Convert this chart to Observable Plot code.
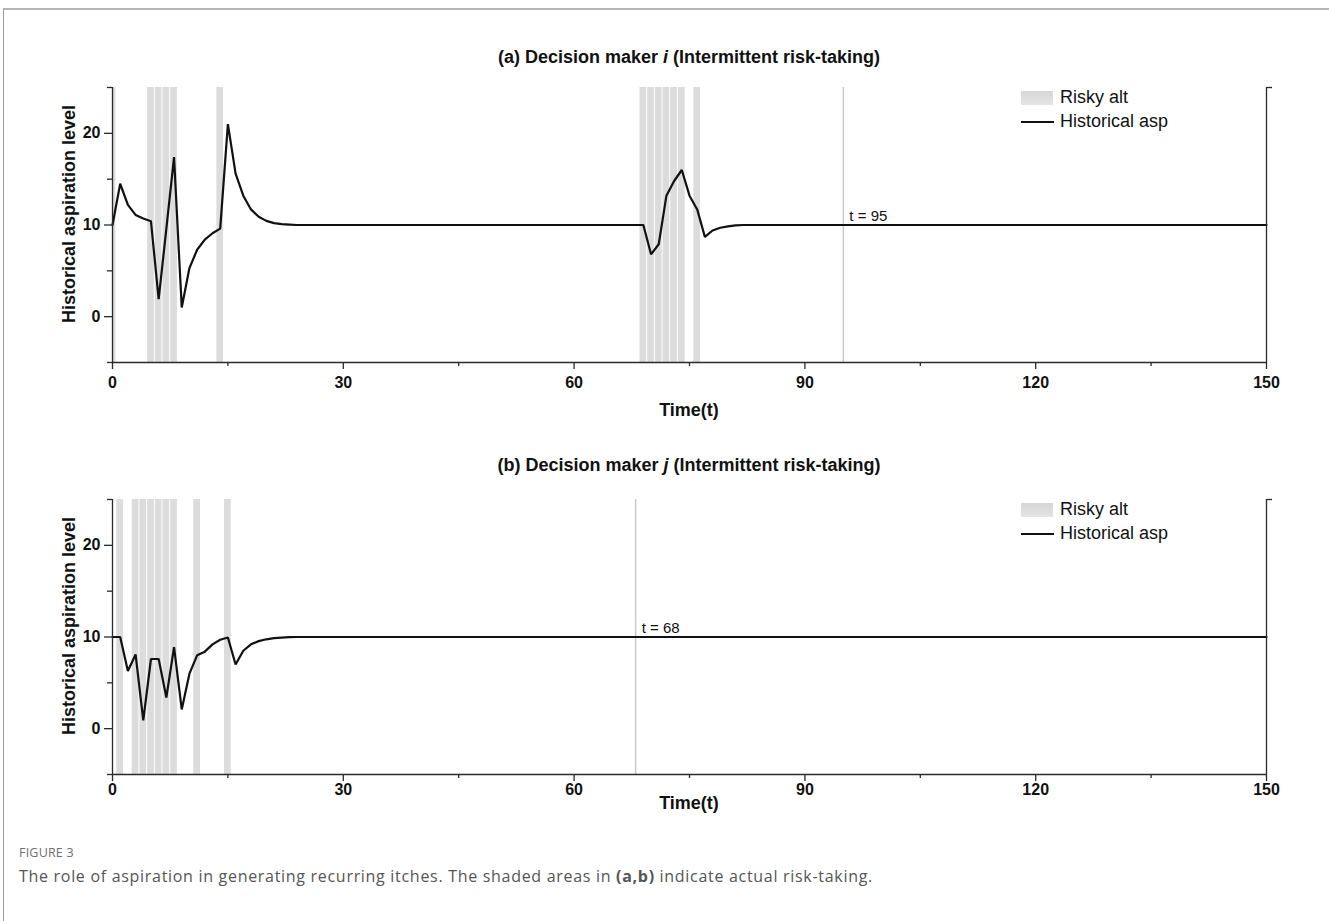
<!DOCTYPE html>
<html>
<head>
<meta charset="utf-8">
<script src="https://cdn.jsdelivr.net/npm/d3@7"></script>
<script src="https://cdn.jsdelivr.net/npm/@observablehq/plot@0.6"></script>
<style>
  body { margin: 0; background: #fff; }
  #page { position: relative; width: 1329px; height: 921px; overflow: hidden; font-family: "Liberation Sans", Arial, sans-serif; color: #111; }
  .abs { position: absolute; white-space: nowrap; }
  .title { font-size: 18px; font-weight: bold; line-height: 18px; transform: translateX(-50%); }
  .xlab { font-size: 18px; font-weight: bold; line-height: 18px; transform: translateX(-50%); }
  .leg { font-size: 18px; line-height: 18px; }
  .caphead { font-family: "Open Sans", "Noto Sans", sans-serif; font-size: 12.5px; color: #6f6f6f; letter-spacing: 0.2px; }
  .captext { font-family: "Open Sans", "Noto Sans", sans-serif; font-size: 16px; letter-spacing: 0.7px; color: #555; }
</style>
</head>
<body>
<div id="page">
  <div class="abs" style="left:3px;top:8px;width:1330px;height:915px;border-top:2px solid #b5b5b5;border-left:1px solid #9a9a9a;"></div>

  <div class="abs title" style="left:689px;top:48px;">(a) Decision maker <i>i</i> (Intermittent risk-taking)</div>
  <div id="chartA" class="abs" style="left:0;top:70px;"></div>
  <div class="abs xlab" style="left:689px;top:401px;">Time(t)</div>
  <div class="abs" style="left:1021px;top:91px;width:32px;height:14px;background:linear-gradient(#d6d6d6,#e4e4e4);"></div>
  <div class="abs leg" style="left:1060px;top:88px;">Risky alt</div>
  <div class="abs" style="left:1021px;top:120.5px;width:33px;height:2px;background:#111;"></div>
  <div class="abs leg" style="left:1060px;top:112px;">Historical asp</div>

  <div class="abs title" style="left:689px;top:456px;">(b) Decision maker <i>j</i> (Intermittent risk-taking)</div>
  <div id="chartB" class="abs" style="left:0;top:482px;"></div>
  <div class="abs xlab" style="left:689px;top:794px;">Time(t)</div>
  <div class="abs" style="left:1021px;top:503px;width:32px;height:14px;background:linear-gradient(#d6d6d6,#e4e4e4);"></div>
  <div class="abs leg" style="left:1060px;top:500px;">Risky alt</div>
  <div class="abs" style="left:1021px;top:532.5px;width:33px;height:2px;background:#111;"></div>
  <div class="abs leg" style="left:1060px;top:524px;">Historical asp</div>

  <div class="abs caphead" style="left:19px;top:844px;">FIGURE 3</div>
  <div class="abs captext" style="left:19px;top:865px;">The role of aspiration in generating recurring itches. The shaded areas in <b>(a,b)</b> indicate actual risk-taking.</div>
</div>

<script>
// ---- Data ----
const timeA = [0,1,2,3,4,5,6,7,8,9,10,11,12,13,14,15,16,17,18,19,20,21,22,23,24,
               69,70,71,72,73,74,75,76,77,78,79,80,81,82,150];
const aspA  = [10,14.5,12.2,11.1,10.7,10.4,1.9,9.6,17.4,1.0,5.3,7.3,8.4,9.1,9.6,21.0,15.6,13.2,11.7,10.9,10.45,10.2,10.1,10.05,10,
               10,6.8,7.9,13.2,14.8,16.0,13.2,11.7,8.7,9.4,9.7,9.85,9.95,10,10];
const riskyA = [0,5,6,7,8,14,69,70,71,72,73,74,76];
const markerA = 95;

const timeB = [0,1,2,3,4,5,6,7,8,9,10,11,12,13,14,15,16,17,18,19,20,21,22,23,24,150];
const aspB  = [10,10,6.3,8.1,0.9,7.6,7.6,3.4,8.9,2.1,6.0,8.0,8.4,9.2,9.7,9.95,7.0,8.5,9.2,9.55,9.75,9.88,9.94,9.98,10,10];
const riskyB = [1,3,4,5,6,7,8,11,15];
const markerB = 68;

const xMajor = [0,30,60,90,120,150];
const xMinor = [15,45,75,105,135];
const yMajor = [0,10,20];
const yMinor = [-5,5,15,25];

function panel(times, values, risky, marker, xPad) {
  const series = times.map((t, i) => ({t, v: values[i]}));
  const bars = risky.map(t => ({x1: t - 0.5, x2: t + 0.5}));
  const axisColor = "#2a2a2a";
  return Plot.plot({
    width: 1329,
    height: 332,
    marginLeft: 112,
    marginRight: 63,
    marginTop: 17,
    marginBottom: 40,
    style: {fontFamily: "'Liberation Sans', Arial, sans-serif", fontSize: "16px", background: "transparent", overflow: "visible"},
    x: {domain: [0, 150]},
    y: {domain: [-5, 25]},
    marks: [
      Plot.rectX(bars, {x1: "x1", x2: "x2", y1: -5, y2: 25, fill: "#dcdcdc", insetLeft: 0.5, insetRight: 0.5, clip: true}),
      Plot.ruleX([marker], {stroke: "#c9c9c9", strokeWidth: 1.5}),
      Plot.line(series, {x: "t", y: "v", stroke: "#111", strokeWidth: 2.2, strokeLinejoin: "miter"}),
      Plot.ruleX([0], {stroke: axisColor, strokeWidth: 1.3}),
      Plot.ruleX([150], {stroke: axisColor, strokeWidth: 1.3}),
      Plot.ruleY([-5], {stroke: axisColor, strokeWidth: 1.3}),
      Plot.axisX({ticks: xMajor, tickSize: 7, tickPadding: xPad, fontSize: 16, fontWeight: "bold", label: null, strokeWidth: 1.3, stroke: axisColor}),
      Plot.axisX({ticks: xMinor, tickSize: 4, tickFormat: () => "", label: null, strokeWidth: 1.3, stroke: axisColor}),
      Plot.axisY({ticks: yMajor, tickSize: 8, tickPadding: 4, fontSize: 16, fontWeight: "bold", label: null, strokeWidth: 1.3, stroke: axisColor}),
      Plot.axisY({ticks: yMinor, tickSize: 5, tickFormat: () => "", label: null, strokeWidth: 1.3, stroke: axisColor}),
      Plot.axisY({anchor: "right", ticks: [25], tickSize: 5, tickFormat: () => "", label: null, strokeWidth: 1.3, stroke: axisColor}),
      Plot.text([{t: marker, v: 10, s: "t = " + marker}], {x: "t", y: "v", text: "s", dx: 6, dy: -4, textAnchor: "start", lineAnchor: "bottom", fontSize: 15, fontWeight: "normal", fill: "#111"}),
      Plot.text(["Historical aspiration level"], {frameAnchor: "left", textAnchor: "middle", lineAnchor: "middle", rotate: -90, dx: -43, dy: -11, fontSize: 18, fontWeight: "bold", fill: "#111"})
    ]
  });
}

document.getElementById("chartA").appendChild(panel(timeA, aspA, riskyA, markerA, 7));
document.getElementById("chartB").appendChild(panel(timeB, aspB, riskyB, markerB, 2));
</script>
</body>
</html>
